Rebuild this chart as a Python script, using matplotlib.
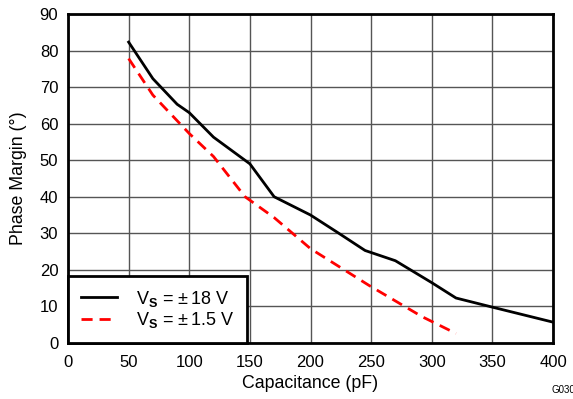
import matplotlib
matplotlib.use("Agg")
import matplotlib.pyplot as plt

plt.rcParams["font.family"] = ["Liberation Sans", "DejaVu Sans"]
plt.rcParams["mathtext.fontset"] = "custom"
plt.rcParams["mathtext.rm"] = "Liberation Sans"
plt.rcParams["mathtext.bf"] = "Liberation Sans:bold"

# Vs = +-18 V
cap_18 = [50, 70, 90, 100, 120, 150, 170, 200, 222, 245, 270, 300, 320, 350, 400]
pm_18 = [82.3, 72.3, 65.3, 63.0, 56.3, 49.0, 40.0, 35.0, 30.3, 25.3, 22.5, 16.5, 12.3, 9.8, 5.7]

# Vs = +-1.5 V
cap_15 = [50, 70, 100, 120, 146, 170, 200, 248, 292, 320]
pm_15 = [77.8, 67.8, 57.3, 51.0, 40.0, 34.3, 25.8, 15.8, 7.2, 2.6]

x_ticks = [0, 50, 100, 150, 200, 250, 300, 350, 400]
y_ticks = [0, 10, 20, 30, 40, 50, 60, 70, 80, 90]

fig = plt.figure(figsize=(5.73, 3.99), dpi=100)
ax = fig.add_axes([0.1187, 0.1404, 0.8464, 0.8246])

ax.plot(cap_18, pm_18, color="black", lw=2, label=r"V$_\mathbf{S}$ = $\pm\,$18 V")
ax.plot(cap_15, pm_15, color="#ff0000", lw=2, ls=(0, (4, 2.5)),
        label=r"V$_\mathbf{S}$ = $\pm\,$1.5 V")

ax.set_xlim(0, 400)
ax.set_ylim(0, 90)
ax.set_xticks(x_ticks)
ax.set_yticks(y_ticks)
ax.tick_params(axis="x", length=0, labelsize=12, pad=9)
ax.tick_params(axis="y", length=0, labelsize=12, pad=7)
ax.grid(True, color="#555555", lw=1)
ax.set_axisbelow(True)
for s in ax.spines.values():
    s.set_linewidth(2)
    s.set_color("black")

ax.set_xlabel("Capacitance (pF)", fontsize=12.8, labelpad=3)
ax.set_ylabel("Phase Margin (°)", fontsize=12.8, labelpad=9)

leg = ax.legend(loc="lower left", bbox_to_anchor=(0, 0), borderaxespad=0,
                fontsize=13, fancybox=False, framealpha=1, handlelength=2.0,
                labelspacing=0.1, borderpad=0.7, handletextpad=1.05,
                handleheight=0.6)
leg.get_frame().set_edgecolor("black")
leg.get_frame().set_linewidth(2)

fig.text(0.962, 0.015, "G030", fontsize=7)

fig.savefig("out.png", dpi=100)
